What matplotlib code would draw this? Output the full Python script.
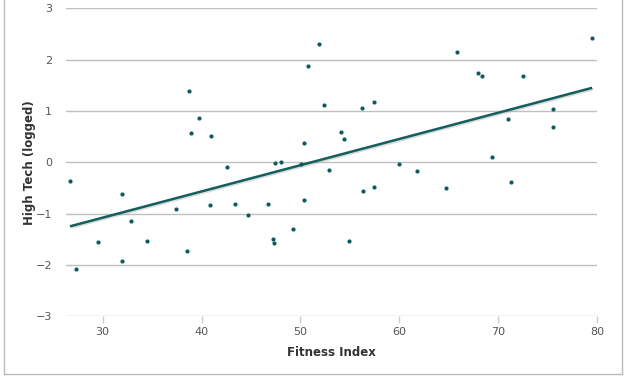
import numpy as np
import matplotlib
matplotlib.use("Agg")
import matplotlib.pyplot as plt
import matplotlib.patheffects as pe
from matplotlib.lines import Line2D

# values
fitness = [26.7, 38.7, 38.9, 39.7, 41.0, 42.6, 47.4, 48.0, 50.4, 50.1, 50.8, 51.9,
           52.4, 56.2, 57.4, 54.1, 54.4, 52.9, 60.0, 61.8, 65.8, 68.0, 68.4, 72.5,
           79.5, 75.5, 75.5, 71.0, 69.4, 56.3, 57.4, 64.7, 71.3,
           32.0, 27.3, 29.5, 32.0, 32.9, 34.5, 37.4, 38.5, 40.9, 43.4, 44.7, 46.7,
           50.4, 49.3, 47.2, 47.3, 54.9]
high_tech = [-0.36, 1.39, 0.57, 0.87, 0.51, -0.09, -0.01, 0.01, 0.37, -0.03, 1.87, 2.31,
             1.11, 1.05, 1.18, 0.59, 0.46, -0.15, -0.04, -0.16, 2.14, 1.74, 1.68, 1.69,
             2.42, 1.03, 0.68, 0.84, 0.11, -0.55, -0.48, -0.49, -0.38,
             -0.62, -2.08, -1.55, -1.92, -1.14, -1.54, -0.90, -1.72, -0.84, -0.82, -1.03, -0.82,
             -0.73, -1.30, -1.49, -1.58, -1.53]
x_ticks = [30, 40, 50, 60, 70, 80]
y_ticks = [-3, -2, -1, 0, 1, 2, 3]

teal = "#0e5a5c"
grid_col = "#c0c0c0"

plt.rcParams['font.family'] = ['DejaVu Sans']

fig = plt.figure(figsize=(6.3, 3.78), dpi=100)
ax = fig.add_axes([0.1048, 0.163, 0.843, 0.815])

ax.set_xlim(26.3, 80)
ax.set_ylim(-3, 3)

for yv in y_ticks:
    ax.axhline(yv, color=grid_col, lw=1, zorder=1)

# regression line between min and max x
slope, icpt = np.polyfit(fitness, high_tech, 1)
xs = np.array([min(fitness), max(fitness)])
ax.plot(xs, slope * xs + icpt, color="#155e5e", lw=1.8, zorder=3, solid_capstyle="butt",
        path_effects=[pe.SimpleLineShadow(offset=(0.8, -1), shadow_color="#888888", alpha=0.3),
                      pe.Normal()])

ax.scatter(fitness, high_tech, s=9, color=teal, zorder=4, linewidths=0)

for s in ax.spines.values():
    s.set_visible(False)

ax.set_xticks(x_ticks)
ax.set_yticks(y_ticks)
ax.set_yticklabels(["\u22123", "\u22122", "\u22121", "0", "1", "2", "3"])
ax.tick_params(axis="x", length=5, width=1, color="#c0d0e0", labelsize=8, labelcolor="#555555", pad=3)
ax.tick_params(axis="y", length=0, labelsize=8, labelcolor="#555555", pad=10)

ax.set_xlabel("Fitness Index", fontsize=8.5, fontweight="bold", color="#333333", va="center")
ax.set_ylabel("High Tech (logged)", fontsize=8.5, fontweight="bold", color="#333333", va="center")
ax.xaxis.set_label_coords(0.5, -0.116)
ax.yaxis.set_label_coords(-0.068, 0.5)

# outer frame
W, H = 630, 378
frame_kw = dict(color="#bbbbbb", lw=1, transform=fig.transFigure)
fig.add_artist(Line2D([4 / W, 4 / W], [1 - 374 / H, 1], **frame_kw))
fig.add_artist(Line2D([4 / W, 622 / W], [1 - 374 / H, 1 - 374 / H], **frame_kw))
fig.add_artist(Line2D([622 / W, 622 / W], [1 - 374 / H, 1], **frame_kw))

fig.savefig("out.png", dpi=100)
